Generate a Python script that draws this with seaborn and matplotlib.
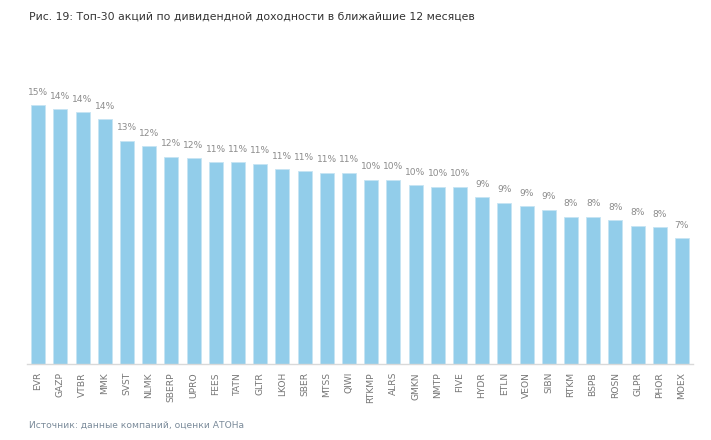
import seaborn as sns
import pandas as pd
import matplotlib.pyplot as plt
import numpy as np

tickers = ["EVR", "GAZP", "VTBR", "MMK", "SVST", "NLMK", "SBERP", "UPRO", "FEES", "TATN",
           "GLTR", "LKOH", "SBER", "MTSS", "QIWI", "RTKMP", "ALRS", "GMKN", "NMTP", "FIVE",
           "HYDR", "ETLN", "VEON", "SIBN", "RTKM", "BSPB", "ROSN", "GLPR", "PHOR", "MOEX"]
yields = [14.6, 14.4, 14.2, 13.8, 12.6, 12.3, 11.7, 11.6, 11.4, 11.4,
          11.3, 11.0, 10.9, 10.8, 10.8, 10.4, 10.4, 10.1, 10.0, 10.0,
          9.4, 9.1, 8.9, 8.7, 8.3, 8.3, 8.1, 7.8, 7.7, 7.1]

df = pd.DataFrame({"ticker": tickers, "yield": yields})

sns.set_style("white")
plt.rcParams['font.family'] = ['DejaVu Sans']

fig = plt.figure(figsize=(7.11, 4.40), dpi=100)
ax = fig.add_axes([0.038, 0.1734, 0.9367, 0.6636])

sns.barplot(data=df, x="ticker", y="yield", color="#92cdea", saturation=1,
            width=0.63, edgecolor="#c6e4f3", linewidth=0.6, ax=ax)

# подписи значений над столбцами
for i, v in enumerate(yields):
    ax.annotate(f"{v:.0f}%", (i, v), xytext=(0, 6), textcoords="offset points",
                ha="center", va="bottom", fontsize=6.6, color="#8c8c8c")

ax.set_xlim(-0.5, len(tickers) - 0.5)
ax.set_ylim(0, 16.5)
ax.set_xlabel("")
ax.set_ylabel("")
ax.set_yticks([])
ax.set_xticks(range(len(tickers)))
ax.set_xticklabels(tickers, rotation=90, fontsize=6.6, color="#777777")
ax.set_xticks(np.arange(len(tickers) + 1) - 0.5, minor=True)
ax.tick_params(axis="x", which="major", length=0, pad=6)
ax.tick_params(axis="x", which="minor", length=4, color="#d9d9d9", width=0.8)
for s in ["top", "right", "left"]:
    ax.spines[s].set_visible(False)
ax.spines["bottom"].set_color("#d9d9d9")
ax.spines["bottom"].set_linewidth(1.0)

fig.text(0.041, 0.962, "Рис. 19: Топ-30 акций по дивидендной доходности в ближайшие 12 месяцев",
         fontsize=7.85, color="#333333", ha="left", va="center")
fig.text(0.041, 0.034, "Источник: данные компаний, оценки АТОНа",
         fontsize=6.6, color="#7b8b9a", ha="left", va="center")

fig.savefig("out.png", dpi=100)
